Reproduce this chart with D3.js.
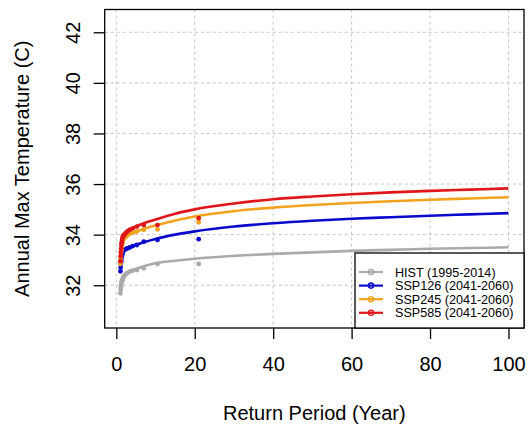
<!DOCTYPE html>
<html><head><meta charset="utf-8">
<script src="https://cdn.jsdelivr.net/npm/d3@7"></script>
<style>body{margin:0;background:#fff}svg{display:block}text{font-family:"Liberation Sans",Arial,sans-serif}</style>
</head><body><svg id="c" width="529" height="426"></svg>
<script>
// Fitted return-level curves
const curveT = [1.01,1.1,1.3,1.6,2,3,5,7,10,15,20,30,40,50,60,70,80,90,100];
const histCurve   = [31.85,32.05,32.20,32.30,32.37,32.50,32.65,32.75,32.87,32.97,33.05,33.16,33.24,33.30,33.36,33.40,33.44,33.47,33.50];
const ssp126Curve = [32.50,32.85,33.10,33.25,33.35,33.48,33.60,33.70,33.83,34.00,34.13,34.32,34.45,34.55,34.63,34.69,34.75,34.80,34.85];
const ssp245Curve = [32.75,33.25,33.55,33.73,33.84,33.97,34.12,34.23,34.36,34.56,34.72,34.93,35.07,35.17,35.25,35.32,35.38,35.43,35.48];
const ssp585Curve = [32.90,33.45,33.75,33.92,34.02,34.15,34.32,34.45,34.60,34.83,35.00,35.23,35.40,35.51,35.60,35.67,35.73,35.78,35.83];
// Empirical points (return period 21/rank)
const pointT = [21,10.5,7,5.25,4.2,3.5,3,2.625,2.333,2.1,1.909,1.75,1.615,1.5,1.4,1.3125,1.235,1.167,1.105,1.05];
const histPts   = [32.84,32.84,32.67,32.60,32.58,32.55,32.50,32.47,32.42,32.38,32.35,32.30,32.25,32.20,32.15,32.10,32.00,31.92,31.82,31.68];
const ssp126Pts = [33.82,33.79,33.72,33.59,33.55,33.50,33.47,33.45,33.42,33.40,33.38,33.33,33.28,33.22,33.15,33.05,32.95,32.85,32.70,32.55];
const ssp245Pts = [34.49,34.21,34.19,34.12,34.08,34.05,34.00,33.95,33.90,33.88,33.85,33.80,33.70,33.60,33.50,33.40,33.30,33.15,33.00,32.85];
const ssp585Pts = [34.65,34.38,34.38,34.32,34.25,34.20,34.15,34.10,34.05,34.00,33.98,33.95,33.90,33.80,33.70,33.60,33.45,33.30,33.15,32.95];
const seriesNames = ["HIST (1995-2014)","SSP126 (2041-2060)","SSP245 (2041-2060)","SSP585 (2041-2060)"];
const seriesColors = ["#aaaaaa","#0a0acc","#f2a31e","#e0161a"];
const xTicks = [0,20,40,60,80,100];
const yTicks = [32,34,36,38,40,42];
const xTitle = "Return Period (Year)";
const yTitle = "Annual Max Temperature (C)";

const curves = [histCurve, ssp126Curve, ssp245Curve, ssp585Curve];
const points = [histPts, ssp126Pts, ssp245Pts, ssp585Pts];

const L=104.7, R=524, T=9.5, B=328;
const svg = d3.select("#c");
const x = d3.scaleLinear().domain([-2.96,103.96]).range([L,R]);
const y = d3.scaleLinear().domain([30.31,42.9]).range([B,T]);

// grid
const g = svg.append("g");
g.selectAll("line.vx").data(xTicks).join("line")
  .attr("x1",d=>x(d)).attr("x2",d=>x(d)).attr("y1",T).attr("y2",B)
  .attr("stroke","#c4c4c4").attr("stroke-width",1).attr("stroke-dasharray","3,3");
g.selectAll("line.hy").data(yTicks).join("line")
  .attr("y1",d=>y(d)).attr("y2",d=>y(d)).attr("x1",L).attr("x2",R)
  .attr("stroke","#c4c4c4").attr("stroke-width",1).attr("stroke-dasharray","3,3");

// curves & points
const line = d3.line().x(d=>x(d[0])).y(d=>y(d[1])).curve(d3.curveMonotoneX);
curves.forEach((c,i)=>{
  svg.append("path").datum(curveT.map((t,j)=>[t,c[j]]))
    .attr("d",line).attr("fill","none").attr("stroke",seriesColors[i]).attr("stroke-width",2.6);
});
points.forEach((p,i)=>{
  svg.append("g").selectAll("circle").data(pointT.map((t,j)=>[t,p[j]])).join("circle")
    .attr("cx",d=>x(d[0])).attr("cy",d=>y(d[1])).attr("r",2.4).attr("fill",seriesColors[i]);
});

// box
svg.append("rect").attr("x",L).attr("y",T).attr("width",R-L).attr("height",B-T)
  .attr("fill","none").attr("stroke","#000").attr("stroke-width",1.3);

// axes
const ax = svg.append("g").attr("transform",`translate(0,${B})`)
  .call(d3.axisBottom(x).tickValues(xTicks).tickSize(11).tickFormat(d3.format("d")));
ax.select(".domain").remove();
ax.selectAll("line").attr("stroke-width",1.3);
ax.selectAll("text").attr("font-size",20).attr("fill","#000").attr("dy",0).attr("y",42.5);

const ay = svg.append("g").attr("transform",`translate(${L},0)`)
  .call(d3.axisLeft(y).tickValues(yTicks).tickSize(11).tickFormat(d3.format("d")));
ay.select(".domain").remove();
ay.selectAll("line").attr("stroke-width",1.3);
ay.selectAll("text").attr("font-size",20).attr("fill","#000")
  .attr("x",0).attr("dy",0).attr("text-anchor","middle")
  .attr("transform","translate(-25,0) rotate(-90)");

// titles
svg.append("text").attr("x",(L+R)/2).attr("y",420).attr("text-anchor","middle")
  .attr("font-size",20).text(xTitle);
svg.append("text").attr("transform",`translate(29,${(T+B)/2}) rotate(-90)`)
  .attr("text-anchor","middle").attr("font-size",20).text(yTitle);

// legend
const lg = svg.append("g");
lg.append("rect").attr("x",355).attr("y",253).attr("width",R-355).attr("height",B-253)
  .attr("fill","#fff").attr("stroke","#000").attr("stroke-width",1.3);
seriesNames.forEach((n,i)=>{
  const yy = 272 + i*13.6;
  lg.append("line").attr("x1",359).attr("x2",383).attr("y1",yy).attr("y2",yy)
    .attr("stroke",seriesColors[i]).attr("stroke-width",2.2);
  lg.append("circle").attr("cx",371).attr("cy",yy).attr("r",2.6)
    .attr("fill","none").attr("stroke",seriesColors[i]).attr("stroke-width",1.4);
  lg.append("text").attr("x",395).attr("y",yy+4.5).attr("font-size",12.6).text(n);
});
</script></body></html>
